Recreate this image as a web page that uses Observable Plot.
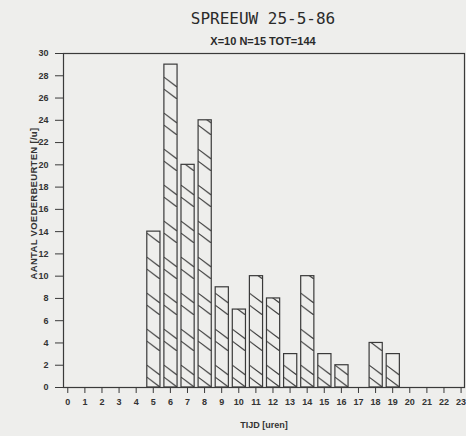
<!DOCTYPE html>
<html><head><meta charset="utf-8">
<script src="https://cdn.jsdelivr.net/npm/d3@7"></script>
<script src="https://cdn.jsdelivr.net/npm/@observablehq/plot@0.6"></script>
<style>
body{margin:0;background:#eeeeec;}
#wrap{position:relative;width:466px;height:436px;overflow:hidden;}
#head{position:relative;height:48px;}
#title{position:absolute;left:30px;width:466px;top:10.5px;text-align:center;font:16px/16px "DejaVu Sans Mono";color:#2a2a2a;}
#sub{position:absolute;left:30px;width:466px;top:35.7px;text-align:center;font:bold 11px/11px "Liberation Sans";color:#2a2a2a;}
#chart svg{display:block;}
</style></head><body>
<div id="wrap">
<div id="head"><div id="title"></div><div id="sub"></div></div>
<div id="chart"></div>
</div>
<script>
const hours = [5,6,7,8,9,10,11,12,13,14,15,16,17,18,19];
const counts = [14,29,20,24,9,7,10,8,3,10,3,2,0,4,3];
const xTicks = [0,1,2,3,4,5,6,7,8,9,10,11,12,13,14,15,16,17,18,19,20,21,22,23];
const yTicks = [0,2,4,6,8,10,12,14,16,18,20,22,24,26,28,30];
const titleText = "SPREEUW 25-5-86";
const subtitleText = "X=10 N=15 TOT=144";
const xLabel = "TIJD [uren]";
const yLabel = "AANTAL VOEDERBEURTEN [/u]";

document.getElementById("title").textContent = titleText;
document.getElementById("sub").textContent = subtitleText;

const data = hours.map((h, i) => ({hour: h, count: counts[i]}));
const barLeft = -0.35, barRight = 0.42;
const ink = "#3a3a3a";

const plot = Plot.plot({
  width: 466, height: 388,
  marginTop: 5, marginLeft: 63, marginRight: 2, marginBottom: 49,
  style: {background: "transparent", fontFamily: "Liberation Sans", fontSize: "9px", fontWeight: "bold", color: "#333"},
  x: {domain: [-0.25, 23.2]},
  y: {domain: [0, 30]},
  marks: [
    Plot.rectY(data, {x1: d => d.hour + barLeft, x2: d => d.hour + barRight, y: "count",
      fill: "url(#hatch)", stroke: ink, strokeWidth: 1.2}),
    Plot.frame({stroke: ink, strokeWidth: 1.2}),
    Plot.axisX({ticks: xTicks, tickSize: 6, tickPadding: 5, tickFormat: d => String(d), label: null, stroke: ink}),
    Plot.axisY({ticks: yTicks, tickSize: 8, tickPadding: 7, tickFormat: d => String(d), label: null, stroke: ink}),
    Plot.text([xLabel], {frameAnchor: "bottom", dy: 40, fontSize: 9, fill: "#333"}),
    Plot.text([yLabel], {frameAnchor: "left", textAnchor: "middle", lineAnchor: "middle", dx: -30, dy: -17, rotate: -90, fontSize: 9.5, fill: "#333", letterSpacing: 0.3})
  ]
});

// hatch pattern aligned to each bar's left edge
const sx = plot.scale("x"), sy = plot.scale("y");
const step = sx.apply(1) - sx.apply(0);
const left0 = sx.apply(barLeft);
const bw = sx.apply(barRight) - sx.apply(barLeft);
const base = sy.apply(0);
const period = 36, drop = 0.75 * bw;
const svg = d3.select(plot);
svg.selectAll("text").filter(function(){ return this.textContent === yLabel; }).attr("letter-spacing", "0.3px");
const pat = svg.insert("defs", ":first-child").append("pattern")
  .attr("id", "hatch").attr("patternUnits", "userSpaceOnUse")
  .attr("x", left0).attr("y", base).attr("width", step).attr("height", period);
[period - drop, period - drop - 12].forEach(v0 => {
  pat.append("line").attr("x1", 0).attr("y1", v0).attr("x2", bw).attr("y2", v0 + drop)
    .attr("stroke", ink).attr("stroke-width", 1.2);
});
document.getElementById("chart").appendChild(plot);
</script>
</body></html>
